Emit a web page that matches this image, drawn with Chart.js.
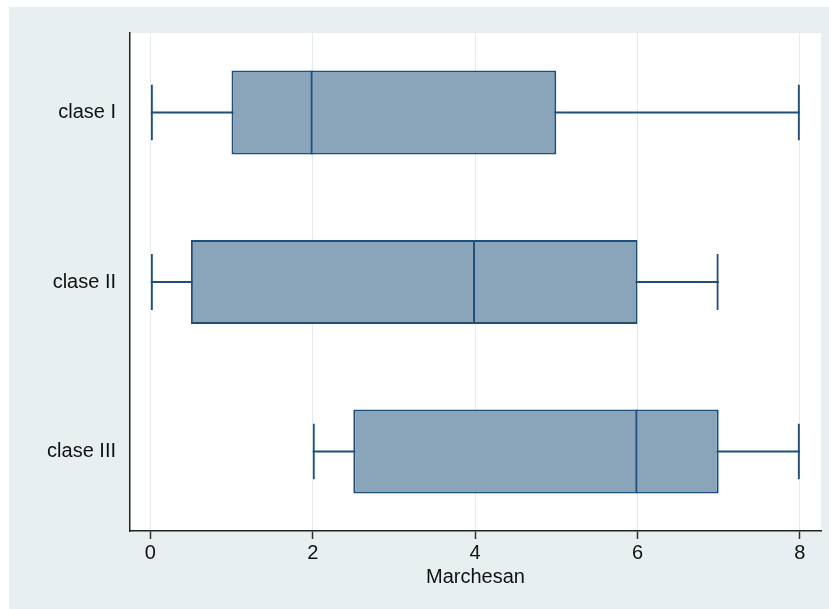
<!DOCTYPE html>
<html>
<head>
<meta charset="utf-8">
<script src="https://cdn.jsdelivr.net/npm/chart.js@4/dist/chart.umd.min.js"></script>
<style>
  html, body { margin: 0; padding: 0; background: #fff; }
  #wrap { position: absolute; left: 9px; top: 7px; width: 820px; height: 602px; background: #e7eff1; }
</style>
</head>
<body>
<div id="wrap"><canvas id="boxChart" width="820" height="602"></canvas></div>
<script>
// valeurs (boîtes à moustaches horizontales)
const categories = ['clase I', 'clase II', 'clase III'];
const mins    = [0, 0, 2];
const q1s     = [1, 0.5, 2.5];
const medians = [2, 4, 6];
const q3s     = [5, 6, 7];
const maxs    = [8, 7, 8];
const xTicks  = [0, 2, 4, 6, 8];

const lineBlue = '#1f4e79';
const boxFill = '#8aa5b9';

// fond blanc de la zone du graphique
const plotBg = {
    id: 'plotBg',
    beforeDraw(chart) {
        const a = chart.chartArea;
        const c = chart.ctx;
        c.save();
        c.fillStyle = '#ffffff';
        c.fillRect(a.left, a.top, a.right - a.left, a.bottom - a.top);
        c.restore();
    }
};

function rows(lo, hi) {
    return categories.map((_, i) => ({ x: [lo[i], hi[i]], y: i }));
}

const common = {
    type: 'bar',
    grouped: false,
    categoryPercentage: 1,
    barPercentage: 1,
    borderSkipped: false,
    inflateAmount: 0
};

const datasets = [
    // médiane : bord droit seulement
    Object.assign({}, common, {
        label: 'median',
        data: rows(q1s, medians),
        backgroundColor: 'rgba(0,0,0,0)',
        borderColor: lineBlue,
        borderWidth: { left: 0, right: 2, top: 0, bottom: 0 },
        maxBarThickness: 84
    }),
    // boîte q1-q3
    Object.assign({}, common, {
        label: 'box',
        data: rows(q1s, q3s),
        backgroundColor: boxFill,
        borderColor: lineBlue,
        borderWidth: 2,
        maxBarThickness: 84
    }),
    // petites barres aux extrémités
    Object.assign({}, common, {
        label: 'caps',
        data: rows(mins, maxs),
        backgroundColor: 'rgba(0,0,0,0)',
        borderColor: lineBlue,
        borderWidth: { left: 2, right: 2, top: 0, bottom: 0 },
        maxBarThickness: 56
    }),
    // moustaches
    Object.assign({}, common, {
        label: 'whisker',
        data: rows(mins, maxs),
        backgroundColor: lineBlue,
        borderWidth: 0,
        maxBarThickness: 2
    })
];

const font = { family: '"Liberation Sans", Arial, Helvetica, sans-serif', size: 20 };

new Chart(document.getElementById('boxChart'), {
    type: 'bar',
    data: { datasets: datasets },
    options: {
        responsive: false,
        animation: false,
        indexAxis: 'y',
        layout: { padding: { top: 22, right: 8, left: 0, bottom: 0 } },
        plugins: {
            legend: { display: false },
            tooltip: { enabled: false }
        },
        scales: {
            x: {
                type: 'linear',
                min: -0.25,
                max: 8.26,
                offset: false,
                afterBuildTicks(scale) {
                    scale.ticks = xTicks.map(v => ({ value: v }));
                },
                afterFit(scale) { scale.height = 78; },
                ticks: { font: font, color: '#111', padding: 2, maxRotation: 0 },
                grid: {
                    color: '#e2ecef',
                    lineWidth: 1,
                    offset: false,
                    drawTicks: true,
                    tickLength: 8,
                    tickColor: '#333',
                    tickWidth: 1.5
                },
                border: { display: true, color: '#222', width: 1.5 },
                title: {
                    display: true,
                    text: 'Marchesan',
                    font: font,
                    color: '#111',
                    padding: { top: 0, bottom: 20 }
                }
            },
            y: {
                type: 'linear',
                min: -0.47,
                max: 2.47,
                reverse: true,
                offset: false,
                afterBuildTicks(scale) {
                    scale.ticks = categories.map((_, i) => ({ value: i }));
                },
                afterFit(scale) { scale.width = 121; },
                ticks: {
                    font: font,
                    color: '#111',
                    padding: 14,
                    callback: (v) => categories[v] ?? ''
                },
                grid: { display: false, offset: false, drawTicks: false, tickLength: 0 },
                border: { display: true, color: '#222', width: 1.5 }
            }
        }
    },
    plugins: [plotBg]
});
</script>
</body>
</html>
